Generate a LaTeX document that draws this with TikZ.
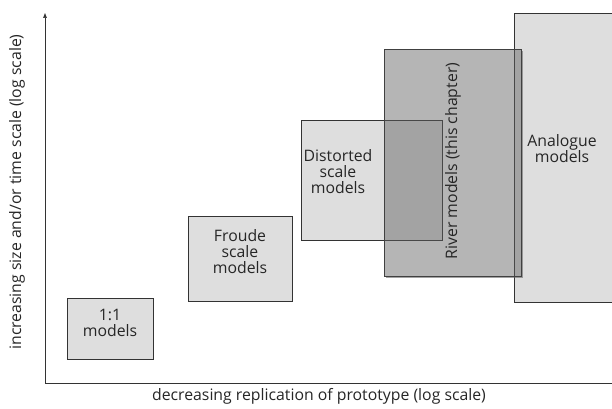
\documentclass[tikz,border=0pt]{standalone}
\usepackage{fontspec}
\setmainfont{Open Sans}
\usetikzlibrary{arrows.meta}
\begin{document}
\begin{tikzpicture}[x=1pt,y=1pt,
  ln/.style={draw=black!80, line width=0.7pt},
  lightbox/.style={ln, fill=black!13, inner sep=0pt},
  riverbox/.style={draw=black!75, line width=0.7pt, fill=black!62, fill opacity=0.47, inner sep=0pt},
  shadowstrip/.style={fill=black!60, fill opacity=0.6, draw=none},
  lbl/.style={font=\fontsize{15.8}{16}\selectfont, align=center, text=black!85, inner sep=0pt},
  axlbl/.style={font=\fontsize{15.8}{16}\selectfont, text=black!85, inner sep=0pt}
]
\useasboundingbox (0,0) rectangle (612,408);
% axes
\coordinate (top) at (45,395);
\coordinate (orig) at (45,25);
\coordinate (xend) at (612,25);
\draw[ln, -{Triangle[length=5pt,width=3.6pt]}] (orig) -- (top);
\draw[ln] (orig) -- (xend);
% boxes
\node[lightbox, minimum width=86pt, minimum height=61pt] (one) at (110,79.5) {};
\node[lightbox, minimum width=104pt, minimum height=85pt] (froude) at (240,149.5) {};
\node[lightbox, minimum width=141pt, minimum height=120pt] (dist) at (371.5,228) {};
\node[lightbox, minimum width=101pt, minimum height=289pt] (analog) at (564.5,250.5) {};
\node[minimum width=137pt, minimum height=227pt, inner sep=0pt] (riverpos) at (452.5,245.5) {};
% shadow of river box
\fill[shadowstrip] ([yshift=-2pt]riverpos.north east) rectangle ([xshift=2pt,yshift=-2pt]riverpos.south east);
\fill[shadowstrip] ([xshift=2pt]riverpos.south west) rectangle ([yshift=-2pt]riverpos.south east);
\node[riverbox, minimum width=137pt, minimum height=227pt] (river) at (riverpos) {};
% labels
\node[lbl] (onet) at (110,85) {1:1\\models};
\node[lbl] (froudet) at (240,156) {Froude\\scale\\models};
\node[lbl] (distt) at (338,236) {Distorted\\scale\\models};
\node[lbl] (analogt) at (562,259) {Analogue\\models};
\node[lbl, rotate=90] (rivert) at (453,247) {River models (this chapter)};
\node[axlbl] (xl) at (319,12) {decreasing replication of prototype (log scale)};
\node[axlbl, rotate=90] (yl) at (17,216) {increasing size and/or time scale (log scale)};
\end{tikzpicture}
\end{document}
